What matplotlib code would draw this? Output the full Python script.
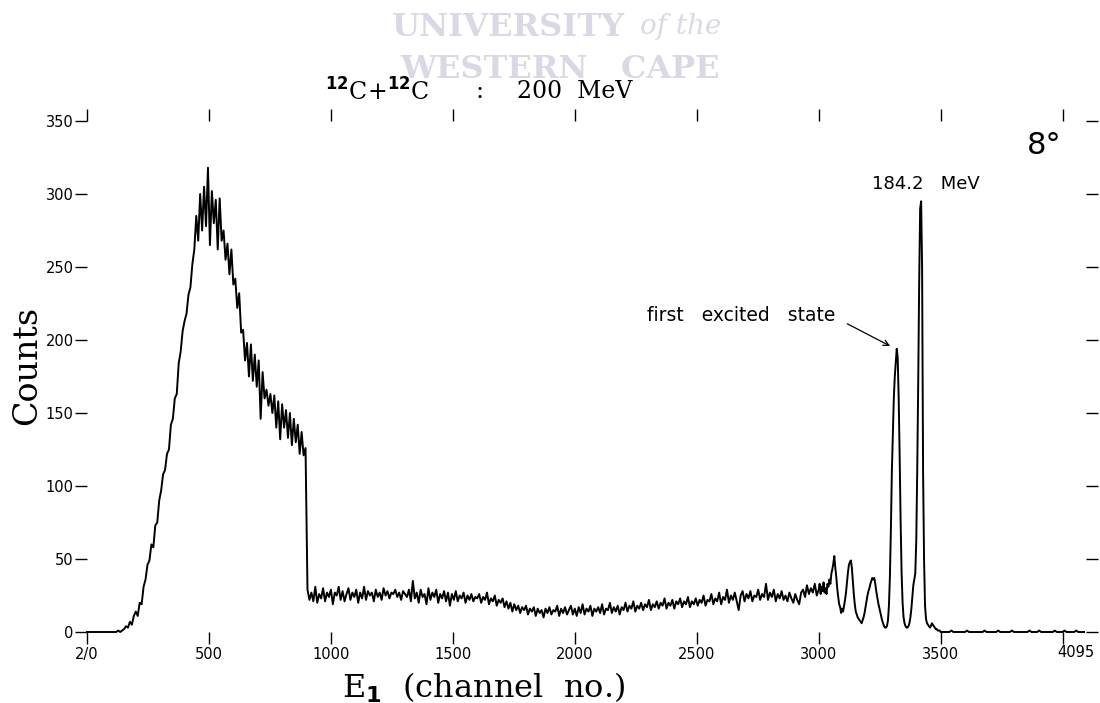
import numpy as np
import matplotlib
matplotlib.use("Agg")
import matplotlib.pyplot as plt

# spectrum: 8-channel bins up to 3000, 4-channel bins over the peaks
lead = [0, 0, 0, 0, 0, 0, 0, 0, 0, 0, 0, 0, 0, 0, 0, 0, 1, 0, 1]
onset = [2, 4, 3, 7, 5, 11]
rise = [14, 11, 20, 19, 31, 36, 46, 49, 60, 58, 73, 75, 90, 97, 108, 111, 122, 125,
        142, 146, 160, 163, 184, 192, 206, 213, 218, 231, 236, 252]
bump = [262, 285, 268, 300, 275, 305, 278, 318, 265, 302, 280, 296, 262, 297, 268,
        275, 255, 266, 245, 262, 238, 242, 222, 232, 205]
shoulder = [207, 186, 198, 175, 197, 172, 190, 168, 186, 146, 178, 160, 166, 155, 163,
            150, 162, 140, 158, 132, 156, 140, 152, 133, 150, 128, 146, 130, 142, 122,
            137, 121, 126]
plateau = [29, 22, 27, 21, 31, 20, 26, 23, 30, 21, 27, 24,
           29, 19, 27, 25, 31, 22, 28, 21, 26, 30, 22, 27,
           24, 29, 20, 27, 23, 31, 22, 28, 25, 27, 21, 29,
           24, 27, 22, 30, 25, 28, 23, 27, 26, 29, 24, 27,
           22, 28, 26, 24, 29, 21, 35, 23, 27, 20, 29, 24,
           26, 19, 30, 22, 27, 24, 29, 20, 26, 23, 28, 21,
           27, 18, 26, 22, 28, 21, 25, 23, 27, 20, 25, 22,
           26, 21, 24, 23, 26, 20, 24, 22, 27, 19, 23, 21, 25, 18, 22, 20]
decline = [23, 17, 21, 16, 20, 14, 19, 15, 18, 13, 17, 15, 18, 12, 16, 14, 17, 11, 16,
           13, 15, 10, 16, 13, 17, 12, 15, 14, 18, 11, 16, 13, 17, 12, 15, 18, 12]
valley = [16, 11, 17, 13, 19, 12, 16, 14, 18, 11, 16, 14, 17, 13, 19, 12, 16, 15, 20, 13,
          17, 14, 18, 12, 17, 15, 20, 14, 18, 16, 21, 14, 18, 16, 20, 15, 19, 17, 22, 15,
          19, 17, 21, 16, 20, 18, 23, 16, 20, 18, 22, 16, 21, 19, 23, 17, 21, 19, 24, 17,
          21, 19]
rise2 = [23, 18, 22, 20, 25, 18, 22, 21, 26, 19, 23, 21, 27, 19, 24, 22, 29, 20, 25, 22,
         27, 21, 15, 25, 28, 21, 26, 23, 28, 21, 25, 24, 29, 22, 26, 24, 33, 22, 27, 24,
         29, 21, 26, 23, 28, 22, 25, 21, 27, 23, 20, 26, 22, 19, 27, 29, 24, 32, 26, 30,
         27, 33, 25]
peaks = [29, 33, 26, 31, 28, 34, 27, 30, 26, 33,
         31, 36, 33, 40, 43, 47, 52, 44, 38, 30,
         24, 19, 17, 13, 16, 14, 18, 22, 27, 34,
         41, 46, 48, 49, 44, 35, 26, 19, 14, 12,
         10, 9, 8, 7, 6, 8, 10, 13, 17, 21,
         25, 28, 30, 33, 35, 37, 36, 37, 33, 28,
         24, 20, 17, 14, 11, 8, 6, 4, 3, 3,
         4, 8, 18, 38, 70, 110, 135, 160, 175, 185,
         194, 188, 160, 120, 75, 40, 20, 10, 6, 4,
         3, 3, 4, 6, 10, 16, 24, 32, 36, 40,
         62, 110, 170, 240, 290, 295, 250, 110, 50, 18,
         9, 6, 5, 4, 3, 4, 6, 5, 4, 3,
         2, 2, 1, 1, 1, 0, 0, 0, 0, 0]
tail = [0, 0, 0, 1, 0, 0, 0, 0, 0, 0, 0, 1, 0, 0, 0, 0, 0, 0, 0, 0,
        1, 0, 0, 0, 0, 0, 0, 1, 0, 0, 0, 0, 0, 0, 1, 0, 0, 0, 0, 0,
        0, 0, 0, 1, 0, 0, 0, 0, 1, 0, 0, 0, 0, 0, 0, 0, 1, 0, 0, 0,
        0, 1, 0, 0, 0, 0, 0, 1, 0, 0, 0, 0]

y_ticks = [0, 50, 100, 150, 200, 250, 300, 350]
x_ticks = [0, 500, 1000, 1500, 2000, 2500, 3000, 3500, 4000]
x_labels = ["2/0", "500", "1000", "1500", "2000", "2500", "3000", "3500", ""]

coarse = lead + onset + rise + bump + shoulder + plateau + decline + valley + rise2
counts = np.array(coarse + peaks + tail, dtype=float)
chan = np.concatenate([np.arange(0, 8 * len(coarse), 8),
                       np.arange(3000, 3000 + 4 * len(peaks), 4),
                       np.arange(3520, 3520 + 8 * len(tail), 8)])

W, H = 1100, 703
fig = plt.figure(figsize=(W / 100, H / 100), dpi=100)

# faint watermark behind the title
wm = "#d9d9e6"
fig.text(392 / W, 1 - 27 / H, "UNIVERSITY", family="DejaVu Serif", weight="bold",
         fontsize=23, color=wm, va="center", ha="left", zorder=0)
fig.text(640 / W, 1 - 27 / H, "of the", family="DejaVu Serif", style="italic",
         fontsize=20, color=wm, va="center", ha="left", zorder=0)
fig.text(400 / W, 1 - 70 / H, "WESTERN   CAPE", family="DejaVu Serif", weight="bold",
         fontsize=23, color=wm, va="center", ha="left", zorder=0)

ax = fig.add_axes([87 / W, 1 - 632 / H, (1086 - 87) / W, (632 - 121) / H])
ax.patch.set_alpha(0)
ax.plot(chan, counts, color="black", lw=1.4, clip_on=False)

ax.set_xlim(0, 4096)
ax.set_ylim(0, 350)
for s in ax.spines.values():
    s.set_visible(False)

ax.set_xticks(x_ticks)
ax.set_xticklabels(x_labels)
ax.set_yticks(y_ticks)
ax.set_yticklabels([str(v) for v in y_ticks])
ax.set_xticks([0], minor=True)
ax.tick_params(axis="both", which="major", direction="out", length=8.5, width=1.0,
               labelsize=10.5, top=True, right=True, pad=2)
ax.tick_params(axis="x", which="minor", direction="in", length=7, width=1.0,
               bottom=True, top=False)
ax.tick_params(axis="y", pad=1)
for lab in ax.get_xticklabels() + ax.get_yticklabels():
    lab.set_family("DejaVu Sans")

ax.text(4053, -14, "4095", ha="center", va="center", fontsize=10.5, family="DejaVu Sans")

# title in three pieces to follow the wide spacing of the original
fig.text(325 / W, 1 - 92 / H, r"$^{\mathbf{12}}$C+$^{\mathbf{12}}$C",
         family="DejaVu Serif", fontsize=17, ha="left", va="center")
fig.text(480 / W, 1 - 92 / H, ":", family="DejaVu Serif", fontsize=17,
         ha="center", va="center")
fig.text(517 / W, 1 - 92 / H, "200  MeV", family="DejaVu Serif", fontsize=17,
         ha="left", va="center")

fig.text(27 / W, 1 - 365 / H, "Counts", rotation=90, family="DejaVu Serif",
         fontsize=24, ha="center", va="center")
fig.text(484 / W, 1 - 688 / H, r"E$_{\mathbf{1}}$  (channel  no.)",
         family="DejaVu Serif", fontsize=23, ha="center", va="center")

ax.text(3926, 333, "8°", family="DejaVu Sans", fontsize=22,
        ha="center", va="center")
ax.text(3439, 307, "184.2   MeV", family="DejaVu Sans", fontsize=13,
        ha="center", va="center")
ax.text(2684, 217, "first   excited   state", family="DejaVu Sans", fontsize=13.5,
        ha="center", va="center")
ax.annotate("", xy=(3303, 195), xytext=(3107, 212),
            arrowprops=dict(arrowstyle="->", lw=0.9, color="black"))

fig.savefig("out.png", dpi=100)
